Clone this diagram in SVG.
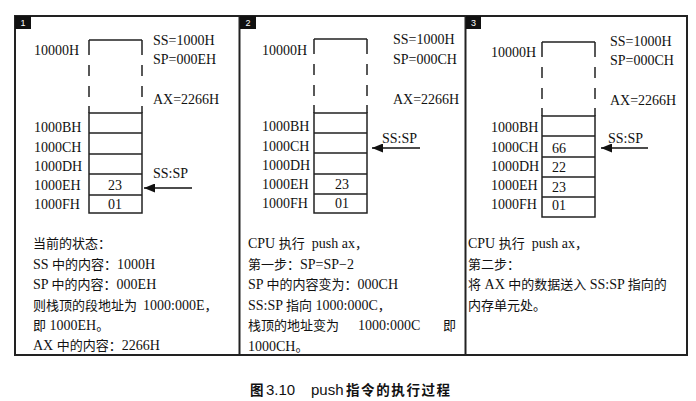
<svg xmlns="http://www.w3.org/2000/svg" width="696" height="401" viewBox="0 0 696 401">
<style>
.t{font-family:"Liberation Serif","Noto Sans CJK SC",serif;font-size:14px;fill:#111}
.c{font-size:13px}
.m{text-anchor:middle}
.cell{fill:none;stroke:#222;stroke-width:1.5}
.frame{fill:none;stroke:#222;stroke-width:2}
.badge{fill:#111}
.bn{font-family:"Liberation Sans",sans-serif;font-size:9px;fill:#fff;text-anchor:middle}
.arr{stroke:#111;stroke-width:1.5;fill:none;marker-end:url(#ah)}
.cap{font-family:"Liberation Sans","Noto Sans CJK SC",sans-serif;font-size:15px;fill:#111}
.capc{font-size:13.5px;font-weight:bold}
</style>
<defs>
<marker id="ah" markerUnits="userSpaceOnUse" markerWidth="12" markerHeight="9" refX="11" refY="4.5" orient="auto">
<path d="M0,0 L11,4.5 L0,9 z" fill="#111"/>
</marker>
</defs>
<rect width="696" height="401" fill="#fff"/>
<g id="frame">
<rect class="frame" x="15" y="16" width="672" height="339"/>
<line class="frame" x1="239.5" y1="16" x2="239.5" y2="355"/>
<line class="frame" x1="465.5" y1="16" x2="465.5" y2="355"/>
</g>

<g id="panel1">
<rect class="badge" x="15" y="16" width="16" height="13"/>
<text class="bn" x="23" y="26">1</text>
<g id="stack1">
<path class="cell" d="M89,40 H142 M89,40 V55 M89,65 V76 M89,86 V97 M89,106 V113 M142,40 V55 M142,65 V76 M142,86 V97 M142,106 V113"/>
<rect class="cell" x="89" y="113" width="53" height="100"/>
<path class="cell" d="M89,133 H142 M89,154 H142 M89,174 H142 M89,195 H142"/>
<text class="t m" x="115" y="190">23</text>
<text class="t m" x="115" y="209">01</text>
</g>
<text class="t" x="34" y="55">10000H</text>
<text class="t" x="34" y="132">1000BH</text>
<text class="t" x="34" y="152">1000CH</text>
<text class="t" x="34" y="171">1000DH</text>
<text class="t" x="34" y="190">1000EH</text>
<text class="t" x="34" y="209">1000FH</text>
<text class="t" x="153" y="45">SS=1000H</text>
<text class="t" x="153" y="64">SP=000EH</text>
<text class="t" x="153" y="104">AX=2266H</text>
<text class="t" x="153" y="178">SS:SP</text>
<text class="t" x="33" y="248"><tspan class="c">当前的状态：</tspan></text>
<text class="t" x="33" y="269">SS <tspan class="c">中的内容：</tspan>1000H</text>
<text class="t" x="33" y="289">SP <tspan class="c">中的内容：</tspan>000EH</text>
<text class="t" x="33" y="310"><tspan class="c">则栈顶的段地址为</tspan><tspan dx="6">1000:000E</tspan><tspan class="c">，</tspan></text>
<text class="t" x="33" y="330"><tspan class="c">即</tspan> 1000EH<tspan class="c">。</tspan></text>
<text class="t" x="33" y="350">AX <tspan class="c">中的内容：</tspan>2266H</text>
</g>

<g id="panel2">
<rect class="badge" x="240" y="16" width="16" height="13"/>
<text class="bn" x="248" y="26">2</text>
<g id="stack2">
<path class="cell" d="M314,39 H367 M314,39 V54 M314,64 V75 M314,85 V96 M314,105 V113 M367,39 V54 M367,64 V75 M367,85 V96 M367,105 V113"/>
<rect class="cell" x="314" y="113" width="53" height="100"/>
<path class="cell" d="M314,133 H367 M314,153 H367 M314,174 H367 M314,194 H367"/>
<text class="t m" x="342" y="189">23</text>
<text class="t m" x="342" y="208">01</text>
</g>
<text class="t" x="262" y="55">10000H</text>
<text class="t" x="262" y="131">1000BH</text>
<text class="t" x="262" y="151">1000CH</text>
<text class="t" x="262" y="170">1000DH</text>
<text class="t" x="262" y="189">1000EH</text>
<text class="t" x="262" y="208">1000FH</text>
<text class="t" x="393" y="44">SS=1000H</text>
<text class="t" x="393" y="64">SP=000CH</text>
<text class="t" x="393" y="104">AX=2266H</text>
<text class="t" x="382" y="143">SS:SP</text>
<text class="t" x="248" y="248">CPU <tspan class="c">执行</tspan><tspan dx="7">push ax</tspan><tspan class="c">，</tspan></text>
<text class="t" x="248" y="268.5"><tspan class="c">第一步：</tspan>SP=SP−2</text>
<text class="t" x="248" y="289">SP <tspan class="c">中的内容变为：</tspan>000CH</text>
<text class="t" x="248" y="309.5">SS:SP <tspan class="c">指向</tspan> 1000:000C<tspan class="c">，</tspan></text>
<text class="t" x="248" y="330"><tspan class="c">栈顶的地址变为</tspan></text>
<text class="t" x="358" y="330">1000:000C</text>
<text class="t" x="443" y="330"><tspan class="c">即</tspan></text>
<text class="t" x="248" y="350.5">1000CH<tspan class="c">。</tspan></text>
</g>

<g id="panel3">
<rect class="badge" x="466" y="16" width="15" height="13"/>
<text class="bn" x="473.5" y="26">3</text>
<g id="stack3">
<path class="cell" d="M542,42 H595 M542,42 V57 M542,67 V78 M542,88 V99 M542,108 V116 M595,42 V57 M595,67 V78 M595,88 V99 M595,108 V116"/>
<rect class="cell" x="542" y="116" width="53" height="101"/>
<path class="cell" d="M542,136 H595 M542,157 H595 M542,177 H595 M542,197 H595"/>
<text class="t" x="552" y="153">66</text>
<text class="t" x="552" y="172">22</text>
<text class="t" x="552" y="192">23</text>
<text class="t" x="552" y="210">01</text>
</g>
<text class="t" x="491" y="57">10000H</text>
<text class="t" x="491" y="132">1000BH</text>
<text class="t" x="491" y="152">1000CH</text>
<text class="t" x="491" y="171">1000DH</text>
<text class="t" x="491" y="190">1000EH</text>
<text class="t" x="491" y="209">1000FH</text>
<text class="t" x="610" y="46">SS=1000H</text>
<text class="t" x="610" y="65">SP=000CH</text>
<text class="t" x="610" y="105">AX=2266H</text>
<text class="t" x="608" y="143">SS:SP</text>
<text class="t" x="468" y="248">CPU <tspan class="c">执行</tspan><tspan dx="7">push ax</tspan><tspan class="c">，</tspan></text>
<text class="t" x="468" y="268.5"><tspan class="c">第二步：</tspan></text>
<text class="t" x="468" y="289"><tspan class="c">将</tspan> AX <tspan class="c">中的数据送入</tspan> SS:SP <tspan class="c">指向的</tspan></text>
<text class="t" x="468" y="309.5"><tspan class="c">内存单元处。</tspan></text>
</g>

<g id="connectors">
<line class="arr" x1="192" y1="188" x2="144" y2="188"/>
<line class="arr" x1="420" y1="148" x2="372" y2="148"/>
<line class="arr" x1="648" y1="148" x2="601" y2="148"/>
</g>

<g id="caption">
<text class="cap" x="250" y="395"><tspan class="capc">图</tspan><tspan x="266">3.10</tspan><tspan x="311">push</tspan><tspan x="346" class="capc" letter-spacing="1.6">指令的执行过程</tspan></text>
</g>
</svg>
